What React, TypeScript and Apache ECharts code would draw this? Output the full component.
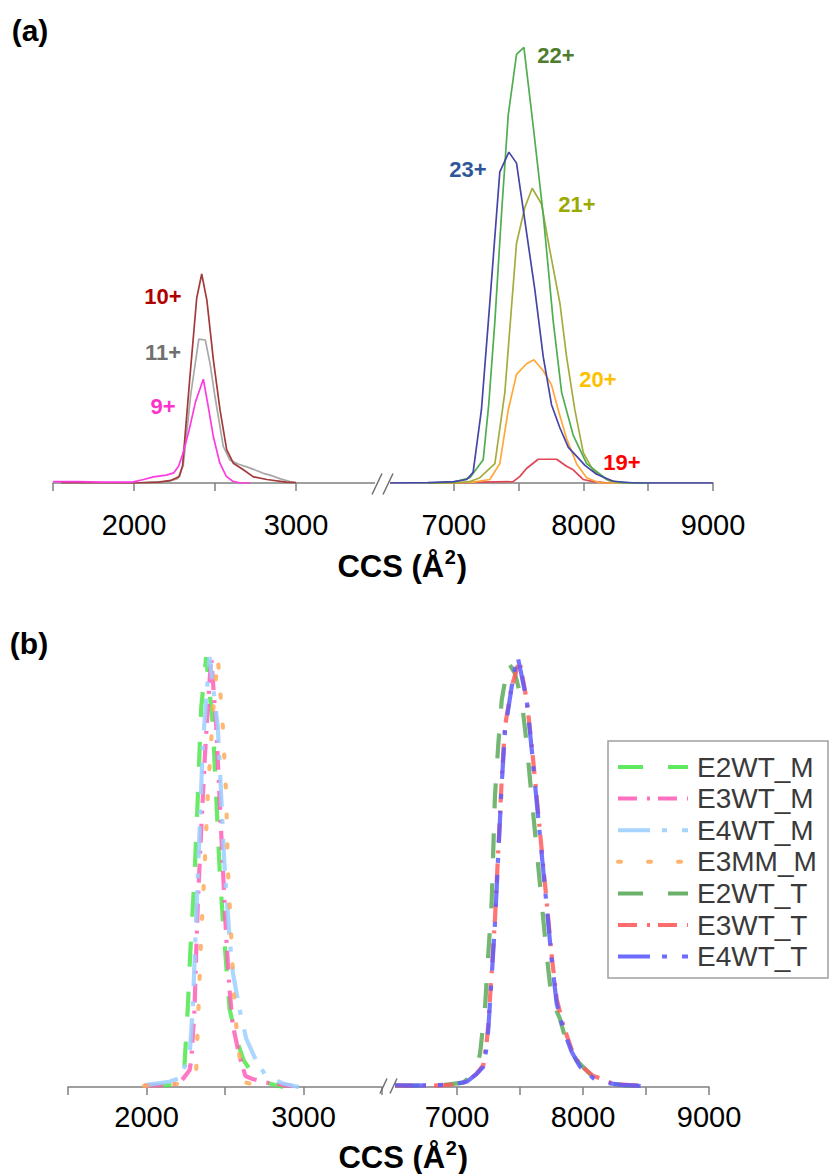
import React, { useEffect, useRef } from "react";
import * as echarts from "echarts";

const FONT = "'Liberation Sans', Arial, Helvetica, sans-serif";

// ---------- Panel (a): charge states (CCS, relative intensity) ----------
const ION9 = [[1500,0.3],[1650,0.3],[1800,0.2],[1990,0.2],[2060,0.8],[2120,1.4],[2200,1.8],[2245,2.3],[2275,3.8],[2300,6.5],[2340,12],[2380,18.5],[2428,23.6],[2460,17],[2490,10.5],[2530,4.5],[2570,1.5],[2610,0.4],[2660,0],[2720,0]];
const ION10 = [[1550,0.1],[1700,0.1],[2000,0],[2150,0.2],[2230,0.6],[2280,1.5],[2300,4],[2345,24],[2387,42],[2418,47.5],[2450,41.5],[2490,28],[2531,16.6],[2572,7.6],[2613,4.5],[2675,3],[2737,1.4],[2820,0.8],[2940,0.2],[3000,0.1]];
const ION11 = [[2000,0],[2200,0.3],[2270,1],[2304,4],[2350,20],[2400,32.7],[2440,32.5],[2470,27],[2500,19.6],[2551,8.3],[2592,5.2],[2650,4.2],[2700,3.6],[2760,2.8],[2798,2.2],[2840,1.8],[2900,1.0],[2963,0.3],[3000,0]];
const ION19 = [[6800,0],[7000,0],[7200,0.2],[7458,0.3],[7510,1.5],[7561,3.3],[7651,5.4],[7793,5.4],[7870,3.8],[7921,3.0],[7998,0.8],[8076,0.3],[8200,0]];
const ION20 = [[6800,0],[7000,0],[7150,0.2],[7278,0.8],[7355,4.4],[7420,16.6],[7484,24.7],[7561,27.1],[7618,28],[7690,25.5],[7754,22.3],[7806,16.6],[7870,10.1],[7947,4.4],[8025,1.2],[8127,0],[8300,0]];
const ION21 = [[6800,0],[7000,0],[7120,0.3],[7201,1.2],[7317,4.4],[7394,20.6],[7440,38],[7484,54.5],[7548,62.6],[7605,67],[7677,63.4],[7741,52.9],[7819,40.8],[7870,28.7],[7934,16.6],[7999,6.9],[8076,2.8],[8205,0.4],[8350,0]];
const ION22 = [[6800,0],[7000,0.2],[7124,1.2],[7227,5.3],[7270,18],[7317,36.8],[7370,62],[7420,83.6],[7484,97.4],[7541,99],[7612,81.3],[7690,61],[7767,36.8],[7832,20.6],[7921,10.9],[8025,4.4],[8180,0.8],[8300,0],[8500,0]];
const ION23 = [[6500,0],[6800,0.1],[7000,0.3],[7100,0.8],[7149,2.4],[7213,16.6],[7278,41],[7355,70.7],[7425,75.2],[7484,72.7],[7561,57],[7625,44],[7690,28.7],[7754,17.8],[7819,12.5],[7884,8.1],[7947,6.1],[8012,4.0],[8102,2.0],[8230,0.4],[8400,0],[9000,0]];

const A_LEFT = [
  { name: "11+", data: ION11, color: "#a8a8a8", label: "#707070" },
  { name: "10+", data: ION10, color: "#a33a3a", label: "#b00000" },
  { name: "9+", data: ION9, color: "#ff3ae0", label: "#ff33cc" },
];
const A_RIGHT = [
  { name: "19+", data: ION19, color: "#e04656", label: "#ff0000" },
  { name: "20+", data: ION20, color: "#ffa838", label: "#ffc000" },
  { name: "21+", data: ION21, color: "#a4ac3c", label: "#9aaa00" },
  { name: "22+", data: ION22, color: "#4fae4f", label: "#4e7d2e" },
  { name: "23+", data: ION23, color: "#4646a8", label: "#2e5597" },
];
const A_LABEL_POS: Record<string, [number, number]> = {
  "10+": [163, 296], "11+": [163, 352], "9+": [163, 406],
  "22+": [556, 55], "23+": [468, 169], "21+": [577, 204], "20+": [598, 379], "19+": [622, 462],
};

// ---------- Panel (b): normalised ATDs ----------
const E2WT_M = [[2000,0.3],[2150,0.5],[2210,1],[2242,5],[2263,18],[2278,30],[2306,48],[2327,66],[2348,86],[2380,97.7],[2423,82],[2444,66],[2465,50],[2486,38],[2529,17.8],[2571,11],[2620,6],[2677,3],[2762,1],[2870,0]];
const E3WT_M = [[1985,0.3],[2150,0.4],[2210,0.8],[2274,3.8],[2285,6],[2306,17.8],[2316,30],[2327,42],[2348,58],[2370,74],[2390,86],[2412,97.7],[2444,82],[2465,66],[2486,50],[2508,34],[2529,22],[2550,14],[2592,7],[2630,2.5],[2677,1.8],[2762,1],[2930,0.2]];
const E4WT_M = [[2000,0.5],[2146,1.2],[2210,2],[2274,7],[2295,18],[2316,38],[2338,58],[2359,78],[2401,97.7],[2454,82],[2476,66],[2497,50],[2529,34],[2550,26],[2592,17.8],[2635,11],[2698,6],[2762,2.5],[2870,0.8],[2970,0]];
const E3MM_M = [[1985,0.3],[2150,0.5],[2253,1],[2316,3.3],[2327,14],[2348,34],[2370,50],[2390,66],[2423,85],[2454,97.7],[2486,82],[2508,66],[2518,50],[2540,34],[2561,17.8],[2592,7],[2613,2.5],[2635,1],[2740,0]];
const E2WT_T = [[6500,0.3],[6700,0.3],[6900,0.5],[7050,1],[7130,3],[7156,4.5],[7183,7.6],[7222,18],[7248,30],[7275,42],[7288,54],[7301,66],[7328,78],[7355,88],[7407,96.5],[7460,94],[7513,88],[7553,78],[7592,66],[7632,54],[7672,42],[7712,30],[7751,20],[7817,15.5],[7870,10],[7950,6],[8082,2.2],[8190,0.9],[8350,0.3],[8480,0.2]];
const E3WT_T = [[6500,0.3],[6800,0.3],[6944,0.5],[7079,1.2],[7156,3],[7209,5],[7235,10],[7248,14],[7275,26],[7301,38],[7328,54],[7355,70],[7381,82],[7434,91],[7495,97],[7553,88],[7592,78],[7632,66],[7672,54],[7712,42],[7751,30],[7791,20],[7844,14],[7910,8.5],[7976,5],[8082,2.5],[8135,2.0],[8241,0.7],[8505,0.2]];
const E4WT_T = [[6500,0.4],[6650,0.3],[6944,0.5],[7079,1.2],[7156,3],[7209,4.6],[7235,9],[7248,13],[7275,25],[7301,37],[7328,53],[7355,69],[7381,81],[7434,91],[7480,98],[7553,88],[7592,77],[7632,65],[7672,53],[7712,41],[7751,29],[7791,19],[7844,13],[7910,8],[7976,4.6],[8082,2],[8200,0.9],[8300,0.5],[8426,0.3],[8505,0.1]];

const DASH_LONG = [25, 25];
const DASH_DOT = [19, 10, 3, 8];
const DASH_DOTDOT = [32, 12, 5, 15];
const DOTS = [3, 27];

const B_SERIES = [
  { name: "E2WT_M", data: E2WT_M, color: "#4fe84f", dash: DASH_LONG, cap: "butt", side: 0 },
  { name: "E3WT_M", data: E3WT_M, color: "#ff5fb8", dash: DASH_DOT, cap: "butt", side: 0 },
  { name: "E4WT_M", data: E4WT_M, color: "#9ccfff", dash: DASH_DOTDOT, cap: "butt", side: 0 },
  { name: "E3MM_M", data: E3MM_M, color: "#ffab5a", dash: DOTS, cap: "round", side: 0 },
  { name: "E2WT_T", data: E2WT_T, color: "#5aaa5a", dash: DASH_LONG, cap: "butt", side: 1 },
  { name: "E3WT_T", data: E3WT_T, color: "#ff5c5c", dash: DASH_DOT, cap: "butt", side: 1 },
  { name: "E4WT_T", data: E4WT_T, color: "#5c5cff", dash: DASH_DOTDOT, cap: "butt", side: 1 },
];

function xAxis(gridIndex: number, min: number, max: number, margin: number) {
  return {
    type: "value", gridIndex, min, max, interval: 500,
    axisLine: { show: true, onZero: false, lineStyle: { color: "#808080", width: 1.5 } },
    axisTick: { show: true, length: 8, lineStyle: { color: "#808080", width: 1.5 } },
    splitLine: { show: false },
    axisLabel: {
      margin, fontSize: 29, color: "#000", fontFamily: FONT,
      formatter: (v: number) => (v % 1000 === 0 ? String(v) : ""),
    },
  };
}
function yAxis(gridIndex: number) {
  return { type: "value", gridIndex, min: 0, max: 100, show: false };
}

function txt(text: string, x: number, y: number, size: number, color: string, bold = true, align = "center") {
  return {
    type: "text", x, y, z: 100,
    style: {
      text, fill: color, fontSize: size, fontWeight: bold ? "bold" : "normal", fontFamily: FONT,
      align, verticalAlign: "middle", textAlign: align, textVerticalAlign: "middle",
    },
  };
}

// axis title "CCS (Å2)" with a raised superscript
function axisTitle(cx: number, cy: number) {
  const size = 31;
  const mainW = 3.444 * size;
  const supSize = 20;
  const supW = 0.556 * supSize;
  const parW = 0.333 * size;
  const x0 = cx - (mainW + supW + parW + 1) / 2;
  return [
    txt("CCS (Å", x0, cy, size, "#000", true, "left"),
    txt("2", x0 + mainW + 0.5, cy - 9, supSize, "#000", true, "left"),
    txt(")", x0 + mainW + supW + 1.5, cy, size, "#000", true, "left"),
  ];
}

function breakMark(x0: number, yAxisPx: number, h: number, w: number, gap: number, cover: [number, number]) {
  return [
    { type: "rect", z: 100, shape: { x: cover[0], y: yAxisPx - 10, width: cover[1] - cover[0], height: 20 }, style: { fill: "#fff" } },
    { type: "line", z: 101, shape: { x1: x0, y1: yAxisPx + h / 2, x2: x0 + w, y2: yAxisPx - h / 2 }, style: { stroke: "#707070", lineWidth: 1.5 } },
    { type: "line", z: 101, shape: { x1: x0 + gap, y1: yAxisPx + h / 2, x2: x0 + gap + w, y2: yAxisPx - h / 2 }, style: { stroke: "#707070", lineWidth: 1.5 } },
  ];
}

export default function App() {
  const ref = useRef<HTMLDivElement>(null);
  useEffect(() => {
    document.body.style.margin = "0";
    const chart = echarts.init(ref.current!, null, { renderer: "svg" });

    const series: any[] = [];
    A_LEFT.forEach((s) => series.push({
      type: "line", name: s.name, data: s.data, xAxisIndex: 0, yAxisIndex: 0,
      symbol: "none", silent: true, lineStyle: { color: s.color, width: 1.7 },
    }));
    A_RIGHT.forEach((s) => series.push({
      type: "line", name: s.name, data: s.data, xAxisIndex: 1, yAxisIndex: 1,
      symbol: "none", silent: true, lineStyle: { color: s.color, width: 1.7 },
    }));
    B_SERIES.forEach((s) => series.push({
      type: "line", name: s.name, data: s.data, xAxisIndex: 2 + s.side, yAxisIndex: 2 + s.side,
      symbol: "none", silent: true,
      lineStyle: { color: s.color, width: 4.2, type: s.dash, cap: s.cap, opacity: 0.85 },
    }));

    const graphic: any[] = [];
    graphic.push(txt("(a)", 30, 30, 30, "#000"));
    graphic.push(txt("(b)", 29, 643, 30, "#000"));
    graphic.push(...axisTitle(402, 566));
    graphic.push(...axisTitle(403, 1157));
    [...A_LEFT, ...A_RIGHT].forEach((s) => {
      const p = A_LABEL_POS[s.name];
      graphic.push(txt(s.name, p[0], p[1], 22, s.label));
    });
    graphic.push(...breakMark(372, 484, 21, 10, 11, [375, 390]));
    graphic.push(...breakMark(380, 1086, 15, 7, 10, [383, 395]));

    // legend for panel (b)
    const lx = 608, ly = 741;
    graphic.push({ type: "rect", z: 100, shape: { x: lx, y: ly, width: 220, height: 237 }, style: { fill: "#fff", stroke: "#a0a0a0", lineWidth: 1.5 } });
    B_SERIES.forEach((s, i) => {
      const yy = 767 + i * 31.6;
      graphic.push({
        type: "line", z: 101, shape: { x1: 618, y1: yy, x2: 688, y2: yy },
        style: { stroke: s.color, lineWidth: 4, lineDash: s.dash, lineCap: s.cap, opacity: 0.9 },
      });
      graphic.push(txt(s.name, 697, yy, 28, "#3a3a3a", false, "left"));
    });

    chart.setOption({
      animation: false,
      backgroundColor: "#fff",
      grid: [
        { left: 53, top: 43, width: 324, height: 440 },
        { left: 389, top: 43, width: 324, height: 440 },
        { left: 68, top: 647, width: 314, height: 440 },
        { left: 394, top: 647, width: 315, height: 440 },
      ],
      xAxis: [
        xAxis(0, 1500, 3500, 27),
        xAxis(1, 6500, 9000, 27),
        xAxis(2, 1500, 3500, 15),
        xAxis(3, 6500, 9000, 15),
      ],
      yAxis: [yAxis(0), yAxis(1), yAxis(2), yAxis(3)],
      series,
      graphic,
    });
    return () => chart.dispose();
  }, []);
  return <div ref={ref} style={{ width: 829, height: 1174 }} />;
}
